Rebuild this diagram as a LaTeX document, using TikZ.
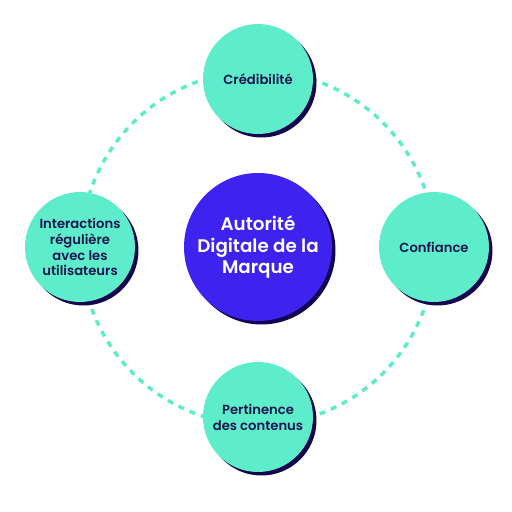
\documentclass[tikz,border=0pt]{standalone}
\usepackage{fontspec}
\setmainfont{Poppins}[BoldFont={Poppins SemiBold}]
\usetikzlibrary{shadows}
\definecolor{Mint}{HTML}{5EEDCB}
\definecolor{Navy}{HTML}{12064F}
\definecolor{Violet}{HTML}{3E22F0}
\definecolor{Ink}{HTML}{1B1550}

\begin{document}
\begin{tikzpicture}[x=0.02cm,y=-0.02cm,
  every node/.style={font=\bfseries},
  ring/.style={Mint,line width=2pt,dash pattern=on 3.4pt off 3.5pt},
  pillar/.style={circle,fill=Mint,text=Ink,minimum size=2.2cm,inner sep=0pt,align=center,
    font=\bfseries\fontsize{7.5}{9}\selectfont,
    drop shadow={shadow xshift=0.07cm,shadow yshift=-0.07cm,fill=Navy,opacity=1}},
  hub/.style={pillar,fill=Violet,text=white,minimum size=2.96cm,
    font=\bfseries\fontsize{10.4}{12.5}\selectfont}]
\useasboundingbox (0,0) rectangle (512,512);
\coordinate (ctr) at (258,248);
\draw[ring] (ctr) circle[radius=3.54cm];
\node[hub] (brand) at (258,247) {Autorité\\Digitale de la\\Marque};
\node[pillar] (cred) at (258,79) {Crédibilité};
\node[pillar] (conf) at (434,247) {Confiance};
\node[pillar] (pert) at (258,417) {Pertinence\\des contenus};
\node[pillar] (inter) at (80,247) {Interactions\\régulière\\avec les\\utilisateurs};
\end{tikzpicture}
\end{document}
